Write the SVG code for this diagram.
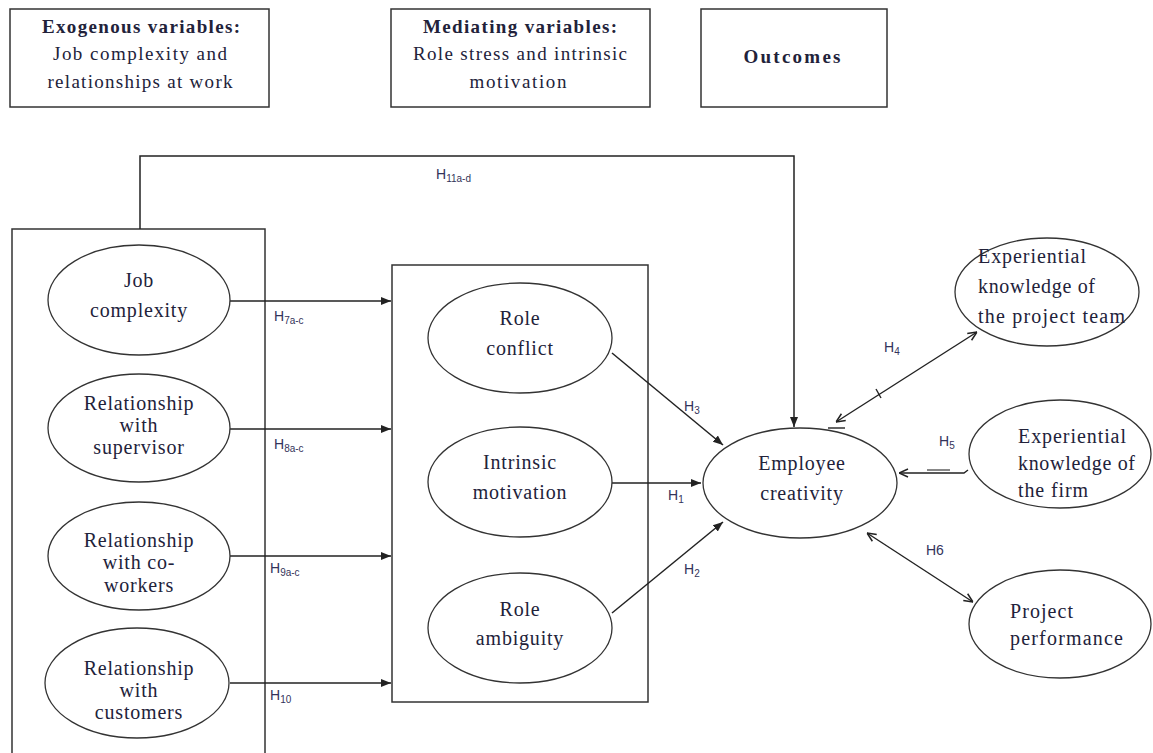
<svg xmlns="http://www.w3.org/2000/svg" width="1153" height="753" viewBox="0 0 1153 753">
<style>
.box{fill:#fff;stroke:#333;stroke-width:1.5}
.ell{fill:#fff;stroke:#333;stroke-width:1.3}
.t{font-family:"Liberation Serif","Times New Roman",serif;font-size:20px;fill:#22223a;letter-spacing:0.8px}
.tb{font-family:"Liberation Serif","Times New Roman",serif;font-size:19px;font-weight:bold;fill:#22223a}
.th{font-family:"Liberation Serif","Times New Roman",serif;font-size:19px;fill:#22223a}
.tr{font-family:"Liberation Serif","Times New Roman",serif;font-size:20px;fill:#22223a}
.h{font-family:"Liberation Sans","Arial",sans-serif;font-size:14px;fill:#33335a}
.hs{font-size:10px}
.c{fill:none;stroke:#222;stroke-width:1.5}
.cd{fill:none;stroke:#222;stroke-width:1.4}
</style>
<defs>
<marker id="ar" viewBox="0 0 10 10" refX="10" refY="5" markerWidth="10" markerHeight="10" markerUnits="userSpaceOnUse" orient="auto">
<path d="M0,1 L10,5 L0,9 Z" fill="#222"/>
</marker>
<marker id="ao" viewBox="0 0 10 10" refX="10" refY="5" markerWidth="10" markerHeight="10" markerUnits="userSpaceOnUse" orient="auto-start-reverse">
<path d="M1,1 L10,5 L1,9" fill="none" stroke="#222" stroke-width="1.5"/>
</marker>
</defs>
<rect width="1153" height="753" fill="#fff"/>

<g id="hdr-exogenous">
<rect class="box" x="10" y="9" width="259" height="98"/>
<text class="tb" x="141" y="33" text-anchor="middle" textLength="198" lengthAdjust="spacing">Exogenous variables:</text>
<text class="th" x="140" y="60" text-anchor="middle" textLength="174" lengthAdjust="spacing">Job complexity and</text>
<text class="th" x="140" y="88" text-anchor="middle" textLength="185" lengthAdjust="spacing">relationships at work</text>
</g>
<g id="hdr-mediating">
<rect class="box" x="391" y="9" width="259" height="98"/>
<text class="tb" x="520" y="33" text-anchor="middle" textLength="194" lengthAdjust="spacing">Mediating variables:</text>
<text class="th" x="520" y="60" text-anchor="middle" textLength="214" lengthAdjust="spacing">Role stress and intrinsic</text>
<text class="th" x="518" y="88" text-anchor="middle" textLength="97" lengthAdjust="spacing">motivation</text>
</g>
<g id="hdr-outcomes">
<rect class="box" x="701" y="9" width="186" height="98"/>
<text class="tb" x="792" y="63" text-anchor="middle" textLength="97" lengthAdjust="spacing">Outcomes</text>
</g>

<g id="group-exogenous">
<rect class="box" x="12" y="229" width="253" height="530"/>
</g>
<g id="group-mediating">
<rect class="box" x="392" y="265" width="256" height="437"/>
</g>

<g id="connectors">
<path class="c" d="M140,229 V156 H794 V427" marker-end="url(#ar)"/>
<line class="c" x1="230" y1="301" x2="391" y2="301" marker-end="url(#ar)"/>
<line class="c" x1="228" y1="429" x2="391" y2="429" marker-end="url(#ar)"/>
<line class="c" x1="230" y1="556" x2="391" y2="556" stroke="#555" marker-end="url(#ar)"/>
<line class="c" x1="230" y1="683" x2="391" y2="683" marker-end="url(#ar)"/>
<line class="c" x1="612" y1="353" x2="723" y2="445" marker-end="url(#ar)"/>
<line class="c" x1="612" y1="483" x2="701" y2="483" marker-end="url(#ar)"/>
<line class="c" x1="612" y1="613" x2="723" y2="522" marker-end="url(#ar)"/>
<line class="cd" x1="836" y1="422" x2="977" y2="332" marker-start="url(#ao)" marker-end="url(#ao)"/>
<line class="cd" x1="876" y1="389" x2="881" y2="398"/>
<line class="cd" x1="828" y1="428" x2="845" y2="428"/>
<path class="cd" d="M968,470 L964,473 H899" marker-end="url(#ao)"/>
<line x1="927" y1="470" x2="950" y2="470" stroke="#888" stroke-width="2"/>
<line class="cd" x1="867" y1="533" x2="973" y2="602" marker-start="url(#ao)" marker-end="url(#ao)"/>
<text class="h" x="436" y="179">H<tspan class="hs" dy="3">11a-d</tspan></text>
<text class="h" x="274" y="321">H<tspan class="hs" dy="3">7a-c</tspan></text>
<text class="h" x="274" y="449">H<tspan class="hs" dy="3">8a-c</tspan></text>
<text class="h" x="270" y="573">H<tspan class="hs" dy="3">9a-c</tspan></text>
<text class="h" x="270" y="700">H<tspan class="hs" dy="3">10</tspan></text>
<text class="h" x="684" y="411">H<tspan class="hs" dy="3">3</tspan></text>
<text class="h" x="668" y="500">H<tspan class="hs" dy="3">1</tspan></text>
<text class="h" x="684" y="574">H<tspan class="hs" dy="3">2</tspan></text>
<text class="h" x="884" y="352">H<tspan class="hs" dy="3">4</tspan></text>
<text class="h" x="939" y="446">H<tspan class="hs" dy="3">5</tspan></text>
<text class="h" x="926" y="555">H6</text>
</g>

<g id="n-job-complexity">
<ellipse class="ell" cx="139" cy="300" rx="91" ry="55"/>
<text class="t" x="139" y="287" text-anchor="middle">Job</text>
<text class="t" x="139" y="317" text-anchor="middle">complexity</text>
</g>
<g id="n-supervisor">
<ellipse class="ell" cx="139" cy="428" rx="91" ry="54"/>
<text class="t" x="139" y="410" text-anchor="middle">Relationship</text>
<text class="t" x="139" y="432" text-anchor="middle">with</text>
<text class="t" x="139" y="454" text-anchor="middle">supervisor</text>
</g>
<g id="n-coworkers">
<ellipse class="ell" cx="139" cy="556" rx="91" ry="54"/>
<text class="t" x="139" y="547" text-anchor="middle">Relationship</text>
<text class="t" x="139" y="569" text-anchor="middle">with co-</text>
<text class="t" x="139" y="592" text-anchor="middle">workers</text>
</g>
<g id="n-customers">
<ellipse class="ell" cx="137" cy="683" rx="92" ry="55"/>
<text class="t" x="139" y="675" text-anchor="middle">Relationship</text>
<text class="t" x="139" y="697" text-anchor="middle">with</text>
<text class="t" x="139" y="719" text-anchor="middle">customers</text>
</g>
<g id="n-role-conflict">
<ellipse class="ell" cx="520" cy="338" rx="92" ry="55"/>
<text class="t" x="520" y="325" text-anchor="middle">Role</text>
<text class="t" x="520" y="355" text-anchor="middle">conflict</text>
</g>
<g id="n-intrinsic">
<ellipse class="ell" cx="520" cy="482" rx="92" ry="55"/>
<text class="t" x="520" y="469" text-anchor="middle">Intrinsic</text>
<text class="t" x="520" y="499" text-anchor="middle">motivation</text>
</g>
<g id="n-role-ambiguity">
<ellipse class="ell" cx="520" cy="628" rx="92" ry="55"/>
<text class="t" x="520" y="616" text-anchor="middle">Role</text>
<text class="t" x="520" y="645" text-anchor="middle">ambiguity</text>
</g>
<g id="n-creativity">
<ellipse class="ell" cx="800" cy="483" rx="97" ry="55"/>
<text class="t" x="802" y="470" text-anchor="middle">Employee</text>
<text class="t" x="802" y="500" text-anchor="middle">creativity</text>
</g>
<g id="n-team">
<ellipse class="ell" cx="1047" cy="292" rx="92" ry="54"/>
<text class="tr" x="978" y="263" textLength="108" lengthAdjust="spacing">Experiential</text>
<text class="tr" x="978" y="293" textLength="117" lengthAdjust="spacing">knowledge of</text>
<text class="tr" x="978" y="323" textLength="147" lengthAdjust="spacing">the project team</text>
</g>
<g id="n-firm">
<ellipse class="ell" cx="1060" cy="454" rx="91" ry="54"/>
<text class="tr" x="1018" y="443" textLength="108" lengthAdjust="spacing">Experiential</text>
<text class="tr" x="1018" y="470" textLength="117" lengthAdjust="spacing">knowledge of</text>
<text class="tr" x="1018" y="497" textLength="70" lengthAdjust="spacing">the firm</text>
</g>
<g id="n-performance">
<ellipse class="ell" cx="1060" cy="624" rx="91" ry="54"/>
<text class="tr" x="1010" y="618" textLength="63" lengthAdjust="spacing">Project</text>
<text class="tr" x="1010" y="645" textLength="113" lengthAdjust="spacing">performance</text>
</g>
</svg>
